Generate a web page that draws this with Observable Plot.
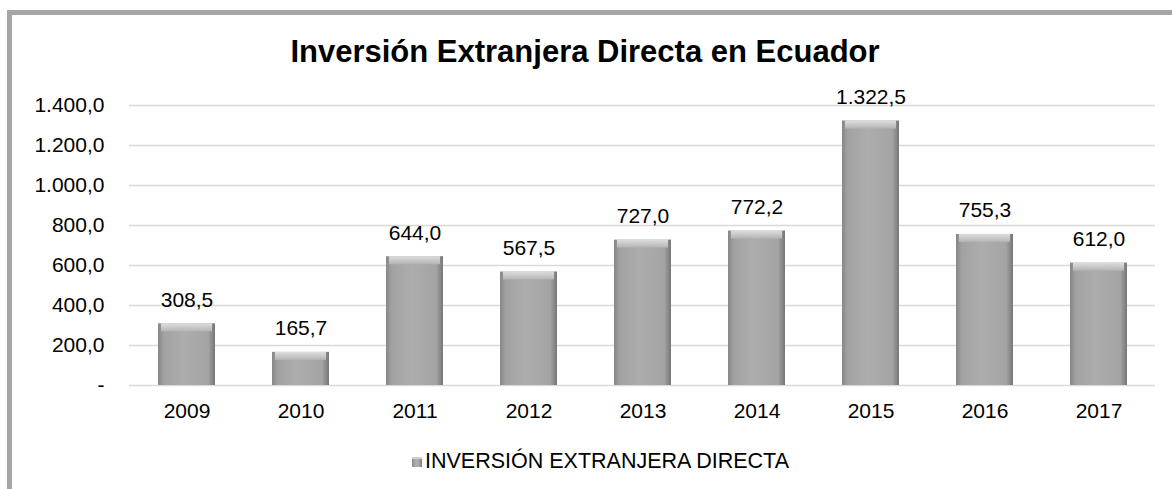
<!DOCTYPE html>
<html>
<head>
<meta charset="utf-8">
<script src="https://cdn.jsdelivr.net/npm/d3@7"></script>
<script src="https://cdn.jsdelivr.net/npm/@observablehq/plot@0.6"></script>
<style>
  html, body { margin: 0; padding: 0; background: #fff; }
  body { width: 1172px; height: 489px; position: relative; overflow: hidden; font-family: "Liberation Sans", Arial, sans-serif; }
  #frame { position: absolute; left: 7px; top: 10px; width: 1200px; height: 500px; border-left: 5px solid #a6a6a6; border-top: 5px solid #a6a6a6; }
  #title { position: absolute; left: 0; width: 1170px; top: 36px; text-align: center; font-size: 31px; line-height: 31px; font-weight: bold; color: #000; }
  #chart { position: absolute; left: 0; top: 80px; }
  #legend { position: absolute; left: 412px; top: 451px; font-size: 21.5px; line-height: 21px; color: #000; display: flex; align-items: center; }
  #legend .sw { width: 10px; height: 10px; margin-right: 3px; background: linear-gradient(to right, #8a8a8a, #b0b0b0 40%, #a8a8a8 70%, #7c7c7c); box-shadow: inset 0 2px 0 #d0d0d0; }
</style>
</head>
<body>
<div id="frame"></div>
<div id="title">Inversión Extranjera Directa en Ecuador</div>
<div id="chart"></div>
<div id="legend"><span class="sw"></span><span>INVERSIÓN EXTRANJERA DIRECTA</span></div>
<script>
const years = ["2009", "2010", "2011", "2012", "2013", "2014", "2015", "2016", "2017"];
const values = [308.5, 165.7, 644.0, 567.5, 727.0, 772.2, 1322.5, 755.3, 612.0];
const yTicks = [0, 200, 400, 600, 800, 1000, 1200, 1400];
const seriesName = "INVERSIÓN EXTRANJERA DIRECTA";

const data = years.map((y, i) => ({year: y, value: values[i]}));
const locale = d3.formatLocale({decimal: ",", thousands: ".", grouping: [3], currency: ["$", ""]});
const fmt = locale.format(",.1f");
const yFmt = d => d === 0 ? "-" : fmt(d);

const NS = "http://www.w3.org/2000/svg";
function defs() {
  const d = document.createElementNS(NS, "defs");
  d.innerHTML = `
    <linearGradient id="barGrad" x1="0" y1="0" x2="1" y2="0">
      <stop offset="0" stop-color="#868686"/>
      <stop offset="0.1" stop-color="#a2a2a2"/>
      <stop offset="0.45" stop-color="#adadad"/>
      <stop offset="0.88" stop-color="#a4a4a4"/>
      <stop offset="1" stop-color="#767676"/>
    </linearGradient>
    <linearGradient id="topGrad" x1="0" y1="0" x2="0" y2="1">
      <stop offset="0" stop-color="#dedede"/>
      <stop offset="1" stop-color="#b4b4b4"/>
    </linearGradient>`;
  return d;
}

const chart = Plot.plot({
  width: 1172,
  height: 360,
  marginLeft: 129,
  marginRight: 17,
  marginTop: 25,
  marginBottom: 55,
  style: {fontFamily: "'Liberation Sans', Arial, sans-serif", fontSize: "21px", color: "#000", background: "transparent"},
  x: {domain: years, paddingInner: 0.5, paddingOuter: 0.25, label: null},
  y: {domain: [0, 1400], label: null},
  marks: [
    defs,
    Plot.ruleY(yTicks, {stroke: "#d9d9d9", strokeWidth: 1.5}),
    Plot.barY(data, {x: "year", y: "value", fill: "url(#barGrad)"}),
    Plot.barY(data, {x: "year", y1: "value", y2: "value", insetBottom: -8, insetLeft: 3, insetRight: 3, fill: "url(#topGrad)"}),
    Plot.text(data, {x: "year", y: "value", text: d => fmt(d.value), lineAnchor: "bottom", dy: -17, fill: "#000", fontSize: 21}),
    Plot.axisX({tickSize: 0, tickPadding: 18, fontSize: 21, fill: "#000", label: null}),
    Plot.axisY(yTicks, {tickSize: 0, tickPadding: 25, tickFormat: yFmt, fontSize: 21, fill: "#000", label: null})
  ]
});
document.getElementById("chart").appendChild(chart);
</script>
</body>
</html>
